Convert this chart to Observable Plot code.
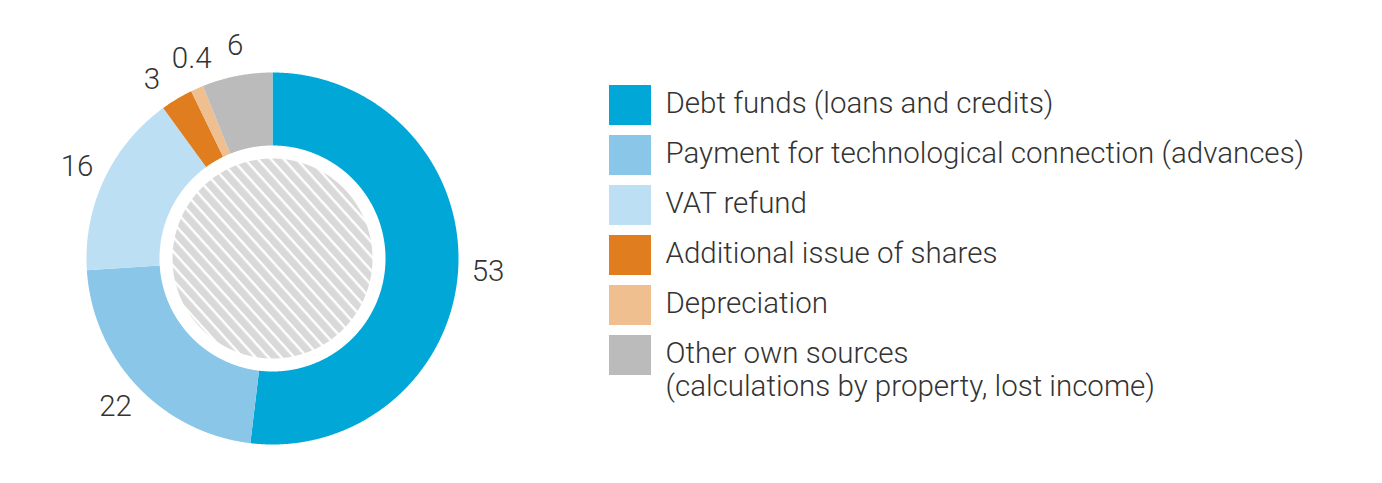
<!DOCTYPE html>
<html><head><meta charset="utf-8">
<script src="https://cdn.jsdelivr.net/npm/d3@7"></script>
<script src="https://cdn.jsdelivr.net/npm/@observablehq/plot@0.6"></script>
<style>
body{margin:0;background:#fff;}
#wrap{position:relative;width:1382px;height:483px;overflow:hidden;}
#wrap svg{position:absolute;top:0;background:none;}
</style></head><body><div id="wrap"></div>
<script>
// ---- data ----
const categories = [
  "Debt funds (loans and credits)",
  "Payment for technological connection (advances)",
  "VAT refund",
  "Additional issue of shares",
  "Depreciation",
  "Other own sources"
];
const legendLabels = [
  "Debt funds (loans and credits)",
  "Payment for technological connection (advances)",
  "VAT refund",
  "Additional issue of shares",
  "Depreciation",
  "Other own sources\n(calculations by property, lost income)"
];
// slice shares as drawn in the picture (%)
const values = [51.9, 22.1, 16.0, 2.8, 1.1, 6.1];
// labels as printed
const valueLabels = ["53", "22", "16", "3", "0.4", "6"];
const colors = ["#00a7d7", "#89c6e7", "#bddff3", "#df7d1f", "#efbf8f", "#bbbbbb"];

// ---- layout ----
const OUTER = 1, INNER = 113 / 186, HATCH = 100 / 186, LABEL_R = 216 / 186;
const MIN_GAP = 12 * Math.PI / 180; // minimal angular gap between labels
const TEXT = "#333333";
const FONT = "Roboto, 'DejaVu Sans', sans-serif";
const FS = 29.5;

const arcs = d3.pie().sort(null).value(d => d)(values);
// label angles: slice midpoints, spread apart where they would collide
const labelAngles = arcs.map(d => (d.startAngle + d.endAngle) / 2);
for (let it = 0; it < 50; ++it) {
  for (let i = 1; i < labelAngles.length; ++i) {
    const gap = labelAngles[i] - labelAngles[i - 1];
    if (gap < MIN_GAP) {
      const s = (MIN_GAP - gap) / 2;
      labelAngles[i - 1] -= s;
      labelAngles[i] += s;
    }
  }
}
const pt = (r, a) => [r * Math.sin(a), -r * Math.cos(a)];
function ring(a0, a1, r0, r1) {
  const n = Math.max(4, Math.ceil((a1 - a0) / 0.005));
  const angs = d3.range(n + 1).map(i => a0 + (a1 - a0) * i / n);
  const outer = angs.map(a => pt(r1, a));
  const inner = angs.slice().reverse().map(a => pt(r0, a));
  return [...outer, ...inner, outer[0]];
}
const slices = arcs.map((d, i) => ({
  type: "Feature",
  properties: {category: categories[i]},
  geometry: {type: "Polygon", coordinates: [ring(d.startAngle, d.endAngle, INNER, OUTER)]}
}));
const circle = (r) => {
  const c = d3.range(0, 721).map(i => pt(r, i / 720 * 2 * Math.PI));
  return {type: "Polygon", coordinates: [c]};
};
const domainSquare = {type: "Polygon", coordinates: [[[-1, -1], [1, -1], [1, 1], [-1, 1], [-1, -1]]]};

const donut = Plot.plot({
  width: 560, height: 483,
  marginLeft: 86, marginRight: 102, marginTop: 72, marginBottom: 39,
  projection: {type: "identity", domain: domainSquare, clip: false},
  color: {domain: categories, range: colors},
  style: {fontFamily: FONT, background: "transparent", overflow: "visible"},
  marks: [
    Plot.geo(slices, {fill: d => d.properties.category, stroke: "none"}),
    Plot.geo(circle(HATCH), {fill: "url(#hatch)", stroke: "none"}),
    Plot.text(arcs, {
      x: (d, i) => LABEL_R * Math.sin(labelAngles[i]),
      y: (d, i) => -LABEL_R * Math.cos(labelAngles[i]),
      text: (d, i) => valueLabels[i],
      fontSize: FS, fontWeight: 300, fill: TEXT
    })
  ]
});
// hatch pattern
const defs = d3.select(donut).insert("defs", ":first-child");
const pat = defs.append("pattern").attr("id", "hatch")
  .attr("patternUnits", "userSpaceOnUse").attr("width", 9.6).attr("height", 9.6)
  .attr("patternTransform", "rotate(48)");
pat.append("rect").attr("width", 9.6).attr("height", 9.6).attr("fill", "#d9d9d9");
pat.append("rect").attr("width", 9.6).attr("height", 2.4).attr("fill", "#ffffff");
donut.style.left = "0px";

const legend = Plot.plot({
  width: 782, height: 483, margin: 0,
  x: {type: "band", domain: ["swatch"], range: [9, 51], padding: 0, axis: null},
  y: {type: "band", domain: categories, range: [84, 375], paddingInner: 0.2, paddingOuter: 0, axis: null},
  color: {domain: categories, range: colors},
  style: {fontFamily: FONT, background: "transparent"},
  marks: [
    Plot.cell(categories, {x: () => "swatch", y: d => d, fill: d => d, inset: 0}),
    Plot.text(categories, {
      y: d => d, text: (d, i) => legendLabels[i],
      frameAnchor: "left", textAnchor: "start", dx: 65,
      lineAnchor: "top", dy: -16, lineHeight: 1.12,
      fontSize: FS, fontWeight: 300, fill: TEXT
    })
  ]
});
legend.style.left = "600px";

document.getElementById("wrap").append(donut, legend);
</script></body></html>
